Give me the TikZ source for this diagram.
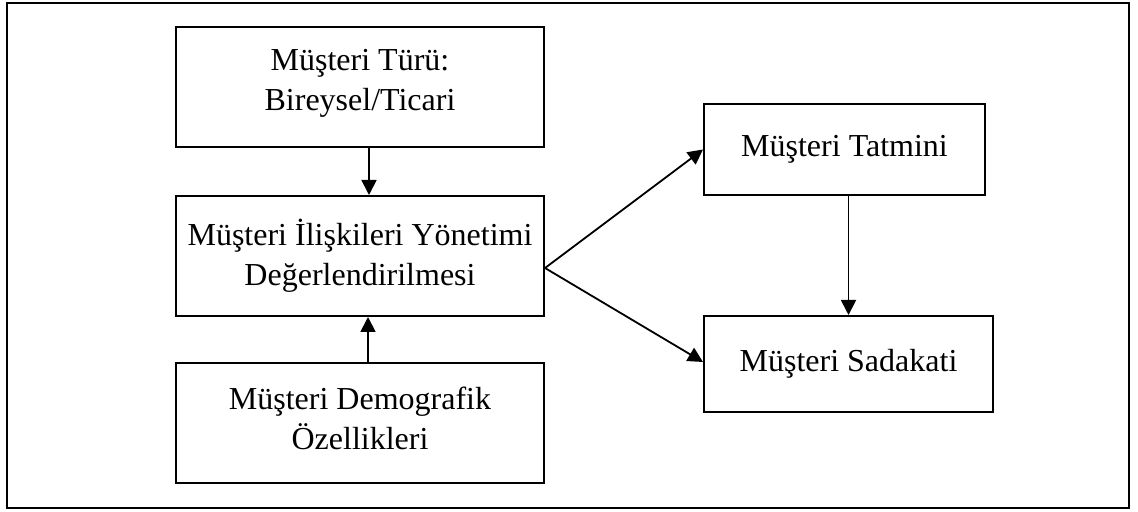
\documentclass[tikz,border=0pt]{standalone}
\usepackage{fontspec}
\setmainfont{Liberation Serif}
\usepackage{tikz}
\usetikzlibrary{arrows.meta, positioning}

\begin{document}
\begin{tikzpicture}[
      block/.style={draw=black, line width=1pt, align=center, inner sep=0pt, font=\fontsize{16}{20}\selectfont},
      wide/.style={block, minimum width=184pt, minimum height=60pt},
      arrow/.style={-{Triangle[length=7.5pt, width=7.5pt]}, line width=0.9pt},
      frame/.style={draw=black, line width=1.3pt},
      x=0.5pt, y=-0.5pt
    ]
    \useasboundingbox (0,0) rectangle (1138,512);
    \draw[frame] (7,3) rectangle (1129,508);

    \node[wide] (type) at (360,87) {Müşteri Türü:\\Bireysel/Ticari\\[-13pt]\mbox{}};
    \node[wide] (crm) at (360,256) {Müşteri İlişkileri Yönetimi\\Değerlendirilmesi};
    \node[wide] (demo) at (360,423) {\mbox{}\\[-13pt]Müşteri Demografik\\Özellikleri};
    \node[block, minimum width=140.5pt, minimum height=45.5pt] (sat) at (844.5,149.5) {Müşteri Tatmini};
    \node[block, minimum width=144.5pt, minimum height=48pt] (loy) at (848.5,364) {Müşteri Sadakati};

    \draw[arrow] ([xshift=4.5pt]type.south) -- ([xshift=4.5pt]crm.north);
    \draw[arrow] ([xshift=4pt]demo.north) -- ([xshift=4pt]crm.south);
    \draw[arrow] ([yshift=-6pt]crm.east) -- (sat.west);
    \draw[arrow] ([yshift=-6pt]crm.east) -- ([yshift=1pt]loy.west);
    \draw[arrow] ([xshift=2pt]sat.south) -- ([xshift=2pt]sat.south |- loy.north);
  \end{tikzpicture}
\end{document}
